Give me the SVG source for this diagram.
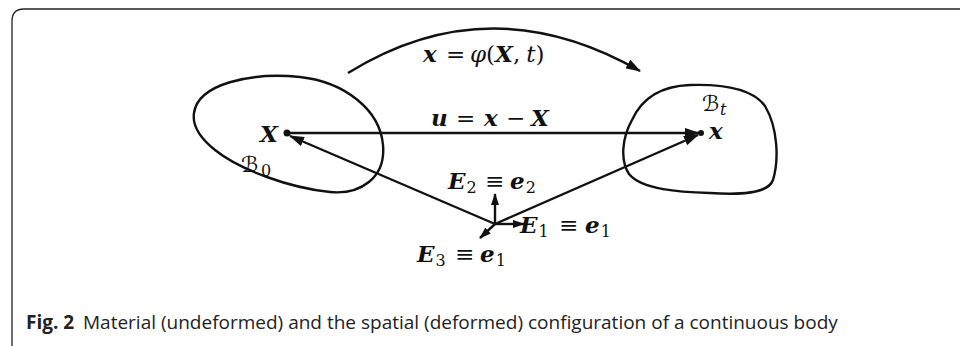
<svg xmlns="http://www.w3.org/2000/svg" width="960" height="346" viewBox="0 0 960 346">
<style>
.ln{fill:none;stroke:#111;stroke-width:2.4}
.m{font-family:"DejaVu Serif","Liberation Serif",serif;font-size:23px;fill:#111}
.b{font-weight:bold;font-style:italic}
.i{font-style:italic}
.r{font-style:normal;font-weight:normal}
.s{font-size:16px;font-style:normal;font-weight:normal}
.cal{font-family:"DejaVu Sans",sans-serif;font-size:22px;fill:#111}
.cap{font-family:"Open Sans","Noto Sans",sans-serif;font-size:19px;fill:#222}
</style>
<defs>
<marker id="ah" markerWidth="15" markerHeight="10" refX="14" refY="5" orient="auto" markerUnits="userSpaceOnUse"><path d="M0,0 L15,5 L0,10 Z" fill="#111"/></marker>
<marker id="ahs" markerWidth="12" markerHeight="8" refX="11" refY="4" orient="auto" markerUnits="userSpaceOnUse"><path d="M0,0 L12,4 L0,8 Z" fill="#111"/></marker>
</defs>
<path d="M12,346 V21 Q12,9 24,9 H960" fill="none" stroke="#222" stroke-width="1.3"/>
<g id="body0">
<path class="ln" d="M194,113 C198,84 250,72 300,77 C345,82 380,110 383,145 C386,178 360,195 330,192 C290,188 240,170 215,150 C200,138 192,126 194,113 Z"/>
<text class="cal" x="241" y="172">ℬ</text>
<text class="m s" x="261" y="176">0</text>
<circle cx="287" cy="133" r="3.5" fill="#111"/>
<text class="m b" x="260" y="142">X</text>
</g>
<g id="bodyt">
<path class="ln" d="M632,120 C642,98 660,86 690,85 C722,84 752,88 765,106 C778,128 779,160 773,180 C768,194 740,195 710,193 C680,192 642,190 629,174 C620,160 622,138 632,120 Z"/>
<text class="cal" x="702" y="111">ℬ</text>
<text class="m s" x="720" y="115" style="font-style:italic">t</text>
<circle cx="701" cy="133" r="3" fill="#111"/>
<text class="m b" x="709" y="139">x</text>
</g>
<g id="origin">
<text class="m"><tspan class="b" x="448" y="189">E</tspan><tspan class="s" dx="1" y="193">2</tspan><tspan class="r" x="485" y="189">≡</tspan><tspan class="b" x="510" y="189">e</tspan><tspan class="s" dx="1" y="193">2</tspan></text>
<text class="m"><tspan class="b" x="520" y="233">E</tspan><tspan class="s" dx="1" y="237">1</tspan><tspan class="r" x="559" y="233">≡</tspan><tspan class="b" x="585" y="233">e</tspan><tspan class="s" dx="1" y="237">1</tspan></text>
<text class="m"><tspan class="b" x="417" y="262">E</tspan><tspan class="s" dx="1" y="266">3</tspan><tspan class="r" x="455" y="262">≡</tspan><tspan class="b" x="480" y="262">e</tspan><tspan class="s" dx="1" y="266">1</tspan></text>
</g>
<g id="labels">
<text class="m" y="62"><tspan class="b" x="423">x</tspan><tspan x="446">=</tspan><tspan class="i" x="470">φ</tspan><tspan>(</tspan><tspan class="b">X</tspan><tspan>,</tspan><tspan class="i" dx="6">t</tspan><tspan>)</tspan></text>
<text class="m" y="126"><tspan class="b" x="431">u</tspan><tspan x="456">=</tspan><tspan class="b" x="484">x</tspan><tspan x="506">−</tspan><tspan class="b" x="531">X</tspan></text>
</g>
<g id="connectors">
<path class="ln" d="M348,73 Q490,-15 640,71" marker-end="url(#ah)"/>
<line class="ln" x1="288" y1="133" x2="699" y2="133" marker-end="url(#ah)"/>
<line class="ln" x1="495" y1="224" x2="290" y2="136" marker-end="url(#ah)"/>
<line class="ln" x1="495" y1="224" x2="698" y2="135" marker-end="url(#ah)"/>
<line class="ln" x1="495" y1="224" x2="495" y2="194" marker-end="url(#ahs)"/>
<line class="ln" x1="495" y1="224" x2="524" y2="224" marker-end="url(#ahs)"/>
<line class="ln" x1="495" y1="224" x2="480" y2="238" marker-end="url(#ahs)"/>
</g>
<text class="cap" x="26" y="329" font-weight="bold">Fig. 2</text>
<text class="cap" x="83" y="329">Material (undeformed) and the spatial (deformed) configuration of a continuous body</text>
</svg>
